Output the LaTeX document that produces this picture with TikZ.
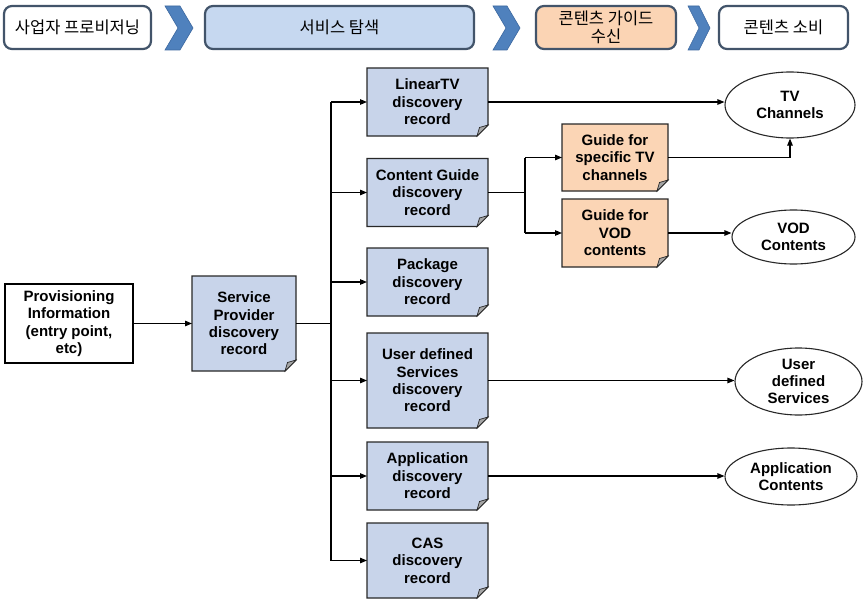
\documentclass[tikz,border=0pt]{standalone}
\usepackage{fontspec}
\setmainfont{Liberation Sans}
\newfontfamily\kr{Noto Sans CJK KR}
\usetikzlibrary{arrows.meta,shapes.geometric,backgrounds}
\definecolor{recblue}{RGB}{200,212,234}
\definecolor{recpeach}{RGB}{251,213,181}
\definecolor{hdrblue}{RGB}{198,216,240}
\definecolor{hdrpeach}{RGB}{251,212,180}
\definecolor{hdrborder}{RGB}{66,84,106}
\definecolor{chevfill}{RGB}{79,129,189}
\definecolor{chevedge}{RGB}{60,104,160}
\definecolor{recedge}{RGB}{40,40,40}
\definecolor{foldgray}{RGB}{165,165,165}
\newcommand\docbg[2]{%
  \filldraw[fill=#2, draw=recedge, line width=1.1pt]
    (#1.north west) -- (#1.north east) -- ([yshift=11pt]#1.south east)
    -- ([xshift=-11pt]#1.south east) -- (#1.south west) -- cycle;
  \filldraw[fill=foldgray, draw=recedge, line width=0.7pt]
    ([xshift=-11pt]#1.south east) .. controls ([xshift=-10pt,yshift=5pt]#1.south east) .. ([xshift=-8.5pt,yshift=8.5pt]#1.south east)
    -- ([yshift=11pt]#1.south east) -- cycle;
}
\newcommand\chevron[3]{%
  \filldraw[fill=chevfill, draw=chevedge, line width=0.6pt]
    (#1,6) -- ++(#2,0) -- ++(#3,22) -- ++(-#3,22) -- ++(-#2,0) -- ++(#3,-22) -- cycle;
}
\begin{document}
\begin{tikzpicture}[x=1pt,y=-1pt,
  hdr/.style={draw=hdrborder, line width=2.2pt, rounded corners=8pt,
    font=\kr\fontsize{16.5}{19}\selectfont, align=center, inner sep=0pt},
  rec/.style={font=\bfseries\fontsize{15}{17.4}\selectfont, align=center,
    inner sep=0pt, outer sep=0pt, minimum width=121},
  grec/.style={rec, minimum width=106},
  ell/.style={ellipse, draw=recedge, line width=1.1pt, fill=white,
    font=\bfseries\fontsize{15}{17.4}\selectfont, align=center, inner sep=0pt},
  conn/.style={draw=black, line width=1.1pt},
  arr/.style={conn, -{Triangle[length=7pt,width=5.5pt]}}
]
\useasboundingbox (0,0) rectangle (867,602);

% header
\node[hdr, fill=white, minimum width=147, minimum height=43] (h1) at (77.5,27.5) {사업자 프로비저닝};
\node[hdr, fill=hdrblue, minimum width=269, minimum height=43] (h2) at (339.5,27.5) {서비스 탐색};
\node[hdr, fill=hdrpeach, minimum width=140, minimum height=43, font=\kr\fontsize{16.5}{17.5}\selectfont] (h3) at (606,27.5) {콘텐츠 가이드\\수신};
\node[hdr, fill=white, minimum width=129, minimum height=43] (h4) at (783.5,27.5) {콘텐츠 소비};
\chevron{165}{15}{13}
\chevron{493}{14}{13}
\chevron{688}{11}{11}

% main nodes
\node[draw=black, line width=1.1pt, rec, minimum width=128, minimum height=79, fill=white] (prov) at (69,323.5)
  {Provisioning\\Information\\(entry point,\\etc)};
\node[rec, minimum width=104, minimum height=95] (sp) at (244,323.5)
  {Service\\Provider\\discovery\\record};
\node[rec, minimum height=68] (ltv) at (427.5,102) {LinearTV\\discovery\\record};
\node[rec, minimum height=68] (cg) at (427.5,192.5) {Content Guide\\discovery\\record};
\node[rec, minimum height=68] (pkg) at (427.5,282) {Package\\discovery\\record};
\node[rec, minimum height=95] (uds) at (427.5,380.5) {User defined\\Services\\discovery\\record};
\node[rec, minimum height=68] (app) at (427.5,476) {Application\\discovery\\record};
\node[rec, minimum height=75] (cas) at (427.5,560.5) {CAS\\discovery\\record};
\node[grec, minimum height=67] (gtv) at (615,157.5) {Guide for\\specific TV\\channels};
\node[grec, minimum height=68] (gvod) at (615,233) {Guide for\\VOD\\contents};

\node[ell, minimum width=130, minimum height=66] (tv) at (790,105) {TV\\Channels};
\node[ell, minimum width=123, minimum height=54] (vod) at (793.5,237) {VOD\\Contents};
\node[ell, minimum width=127, minimum height=67] (udse) at (798.5,381.5) {User\\defined\\Services};
\node[ell, minimum width=132, minimum height=57] (appe) at (791,476.5) {Application\\Contents};

\begin{scope}[on background layer]
  \fill[white] (0,0) rectangle (867,602);
  \docbg{sp}{recblue}
  \foreach \n in {ltv,cg,pkg,uds,app,cas} {\docbg{\n}{recblue}}
  \docbg{gtv}{recpeach}
  \docbg{gvod}{recpeach}
\end{scope}

% connectors
\coordinate (tr) at (331,323.5);
\coordinate (cgb) at (525,192.5);
\draw[arr] (prov) -- (sp);
\draw[conn] (sp.east) -- (tr);
\draw[conn] (ltv.west -| tr) -- (cas.west -| tr);
\foreach \n in {ltv,cg,pkg,uds,app,cas} {\draw[arr] (\n.west -| tr) -- (\n.west);}
\draw[conn] (cg.east) -- (cgb);
\draw[conn] (cgb |- gtv.west) -- (cgb |- gvod.west);
\draw[arr] (cgb |- gtv.west) -- (gtv.west);
\draw[arr] (cgb |- gvod.west) -- (gvod.west);
\draw[arr] (ltv.east) -- (ltv.east -| tv.west);
\draw[arr] (gtv.east) -- (tv.south |- gtv.east) -- (tv.south);
\draw[arr] (gvod.east) -- (gvod.east -| vod.west);
\draw[arr] (uds.east) -- (uds.east -| udse.west);
\draw[arr] (app.east) -- (app.east -| appe.west);
\end{tikzpicture}
\end{document}
